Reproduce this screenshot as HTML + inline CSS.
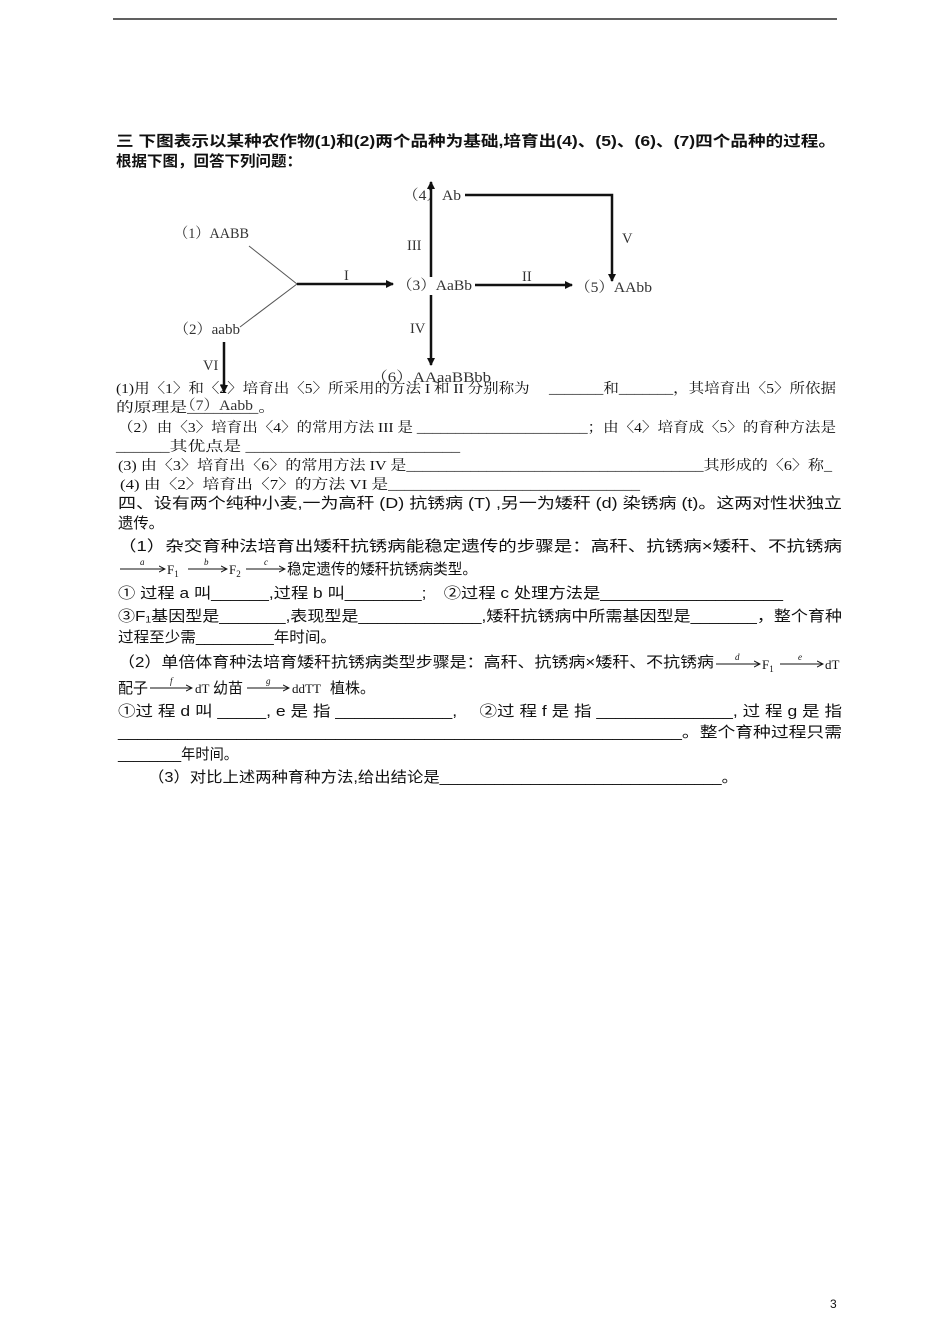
<!DOCTYPE html>
<html><head><meta charset="utf-8"><style>
html,body{margin:0;padding:0;background:#fff;}
svg{display:block;}
text{font-family:"Liberation Serif","Noto Serif CJK SC","Noto Sans CJK SC",serif;fill:#111;}
.s{font-family:"Liberation Sans","Noto Sans CJK SC",sans-serif;}
.d{fill:#333;font-size:14.5px;}
</style></head><body>
<svg width="950" height="1344" viewBox="0 0 950 1344" xmlns="http://www.w3.org/2000/svg">
<line x1="113" y1="19" x2="837" y2="19" stroke="#000" stroke-width="1.2"/>
<defs><marker id="ah" markerWidth="8" markerHeight="8" refX="7" refY="4" orient="auto" markerUnits="userSpaceOnUse"><path d="M0,0 L8,4 L0,8 z" fill="#111"/></marker>
<marker id="sa" markerWidth="7" markerHeight="7" refX="6" refY="3.5" orient="auto" markerUnits="userSpaceOnUse"><path d="M0,0.5 L6,3.5 L0,6.5" fill="none" stroke="#111" stroke-width="1"/></marker></defs>

<text class="s" x="116" y="146" font-size="15" font-weight="bold" textLength="720" lengthAdjust="spacingAndGlyphs">三 下图表示以某种农作物(1)和(2)两个品种为基础,培育出(4)、(5)、(6)、(7)四个品种的过程。</text>
<text class="s" x="116" y="166" font-size="15" font-weight="bold" textLength="186" lengthAdjust="spacingAndGlyphs">根据下图，回答下列问题：</text>

<text class="d" x="403" y="200" textLength="58" lengthAdjust="spacingAndGlyphs">（4）Ab</text>
<polyline points="465,195 612,195 612,281" fill="none" stroke="#111" stroke-width="2.5" marker-end="url(#ah)"/>
<text class="d" x="622" y="243">V</text>
<text class="d" x="174" y="238" textLength="75" lengthAdjust="spacingAndGlyphs">（1）AABB</text>
<line x1="249" y1="246" x2="297" y2="284" stroke="#555" stroke-width="1"/>
<text class="d" x="174" y="334" textLength="66" lengthAdjust="spacingAndGlyphs">（2）aabb</text>
<line x1="240" y1="327" x2="297" y2="284" stroke="#555" stroke-width="1"/>
<line x1="297" y1="284" x2="393" y2="284" stroke="#111" stroke-width="2.5" marker-end="url(#ah)"/>
<text class="d" x="344" y="280">I</text>
<text class="d" x="397" y="290" textLength="75" lengthAdjust="spacingAndGlyphs">（3）AaBb</text>
<line x1="431" y1="277" x2="431" y2="182" stroke="#111" stroke-width="2.5" marker-end="url(#ah)"/>
<text class="d" x="407" y="250">III</text>
<line x1="475" y1="285" x2="572" y2="285" stroke="#111" stroke-width="2.5" marker-end="url(#ah)"/>
<text class="d" x="522" y="281">II</text>
<text class="d" x="575" y="292" textLength="77" lengthAdjust="spacingAndGlyphs">（5）AAbb</text>
<line x1="431" y1="295" x2="431" y2="365" stroke="#111" stroke-width="2.5" marker-end="url(#ah)"/>
<text class="d" x="410" y="333">IV</text>
<text class="d" x="371" y="382" textLength="120" lengthAdjust="spacingAndGlyphs">（6）AAaaBBbb</text>
<line x1="224" y1="342" x2="224" y2="392" stroke="#111" stroke-width="2.5" marker-end="url(#ah)"/>
<text class="d" x="203" y="370">VI</text>
<text class="d" x="180" y="410" textLength="73" lengthAdjust="spacingAndGlyphs">（7）Aabb</text>

<g font-size="14">
<text x="116" y="393" textLength="720" lengthAdjust="spacingAndGlyphs">(1)用〈1〉和〈2〉培育出〈5〉所采用的方法 I 和 II 分别称为　 _______和_______，其培育出〈5〉所依据</text>
<text x="116" y="412" textLength="160" lengthAdjust="spacingAndGlyphs">的原理是________。</text>
<text x="118" y="432" textLength="718" lengthAdjust="spacingAndGlyphs">（2）由〈3〉培育出〈4〉的常用方法 III 是 ______________________；由〈4〉培育成〈5〉的育种方法是</text>
<text x="116" y="451" textLength="344" lengthAdjust="spacingAndGlyphs">______其优点是 ________________________</text>
<text x="118" y="470" textLength="714" lengthAdjust="spacingAndGlyphs">(3) 由〈3〉培育出〈6〉的常用方法 IV 是_____________________________________其形成的〈6〉称_</text>
<text x="120" y="489" textLength="520" lengthAdjust="spacingAndGlyphs">(4) 由〈2〉培育出〈7〉的方法 VI 是______________________________</text>
</g>
<g class="s" font-size="15">
<text class="s" x="118" y="508" textLength="724" lengthAdjust="spacingAndGlyphs">四、设有两个纯种小麦,一为高秆 (D) 抗锈病 (T) ,另一为矮秆 (d) 染锈病 (t)。这两对性状独立</text>
<text class="s" x="118" y="528" textLength="46" lengthAdjust="spacingAndGlyphs">遗传。</text>
<text class="s" x="118" y="551" textLength="724" lengthAdjust="spacingAndGlyphs">（1）杂交育种法培育出矮秆抗锈病能稳定遗传的步骤是：高秆、抗锈病×矮秆、不抗锈病</text>
</g>
<g font-size="13">
<line x1="120" y1="569" x2="165" y2="569" stroke="#111" marker-end="url(#sa)"/><text x="140" y="565" font-size="9" font-style="italic">a</text>
<text x="167" y="574">F<tspan font-size="9" dy="3">1</tspan></text>
<line x1="188" y1="569" x2="227" y2="569" stroke="#111" marker-end="url(#sa)"/><text x="204" y="565" font-size="9" font-style="italic">b</text>
<text x="229" y="574">F<tspan font-size="9" dy="3">2</tspan></text>
<line x1="246" y1="569" x2="285" y2="569" stroke="#111" marker-end="url(#sa)"/><text x="264" y="565" font-size="9" font-style="italic">c</text>
</g>
<text class="s" x="287" y="574" font-size="15" textLength="190" lengthAdjust="spacingAndGlyphs">稳定遗传的矮秆抗锈病类型。</text>
<g class="s" font-size="15">
<text class="s" x="118" y="598" textLength="665" lengthAdjust="spacingAndGlyphs">① 过程 a 叫______,过程 b 叫________;　②过程 c 处理方法是___________________</text>
<text class="s" x="118" y="621" textLength="724" lengthAdjust="spacingAndGlyphs">③F₁基因型是_______,表现型是_____________,矮秆抗锈病中所需基因型是_______，整个育种</text>
<text class="s" x="118" y="642" textLength="218" lengthAdjust="spacingAndGlyphs">过程至少需_________年时间。</text>
<text class="s" x="118" y="667" textLength="596" lengthAdjust="spacingAndGlyphs">（2）单倍体育种法培育矮秆抗锈病类型步骤是：高秆、抗锈病×矮秆、不抗锈病</text>
</g>
<g font-size="13">
<line x1="716" y1="664" x2="760" y2="664" stroke="#111" marker-end="url(#sa)"/><text x="735" y="660" font-size="9" font-style="italic">d</text>
<text x="762" y="669">F<tspan font-size="9" dy="3">1</tspan></text>
<line x1="780" y1="664" x2="823" y2="664" stroke="#111" marker-end="url(#sa)"/><text x="798" y="660" font-size="9" font-style="italic">e</text>
<text x="825" y="669">dT</text>
<text class="s" x="118" y="693" font-size="15">配子</text>
<line x1="150" y1="688" x2="192" y2="688" stroke="#111" marker-end="url(#sa)"/><text x="170" y="684" font-size="9" font-style="italic">f</text>
<text x="195" y="693">dT</text><text class="s" x="213" y="693" font-size="15">幼苗</text>
<line x1="247" y1="688" x2="289" y2="688" stroke="#111" marker-end="url(#sa)"/><text x="266" y="684" font-size="9" font-style="italic">g</text>
<text x="292" y="693">ddTT</text><text class="s" x="330" y="693" font-size="15">植株。</text>
</g>
<g class="s" font-size="15">
<text class="s" x="118" y="716" textLength="724" lengthAdjust="spacingAndGlyphs">①过 程 d 叫 _____, e 是 指 ____________,　 ②过 程 f 是 指 ______________, 过 程 g 是 指</text>
<text class="s" x="118" y="737" textLength="724" lengthAdjust="spacingAndGlyphs">_________________________________________________________。整个育种过程只需</text>
<text class="s" x="118" y="759" textLength="120" lengthAdjust="spacingAndGlyphs">________年时间。</text>
<text class="s" x="148" y="782" textLength="590" lengthAdjust="spacingAndGlyphs">（3）对比上述两种育种方法,给出结论是_______________________________。</text>
</g>
<text x="830" y="1308" font-size="12" class="s">3</text>
</svg>
</body></html>
